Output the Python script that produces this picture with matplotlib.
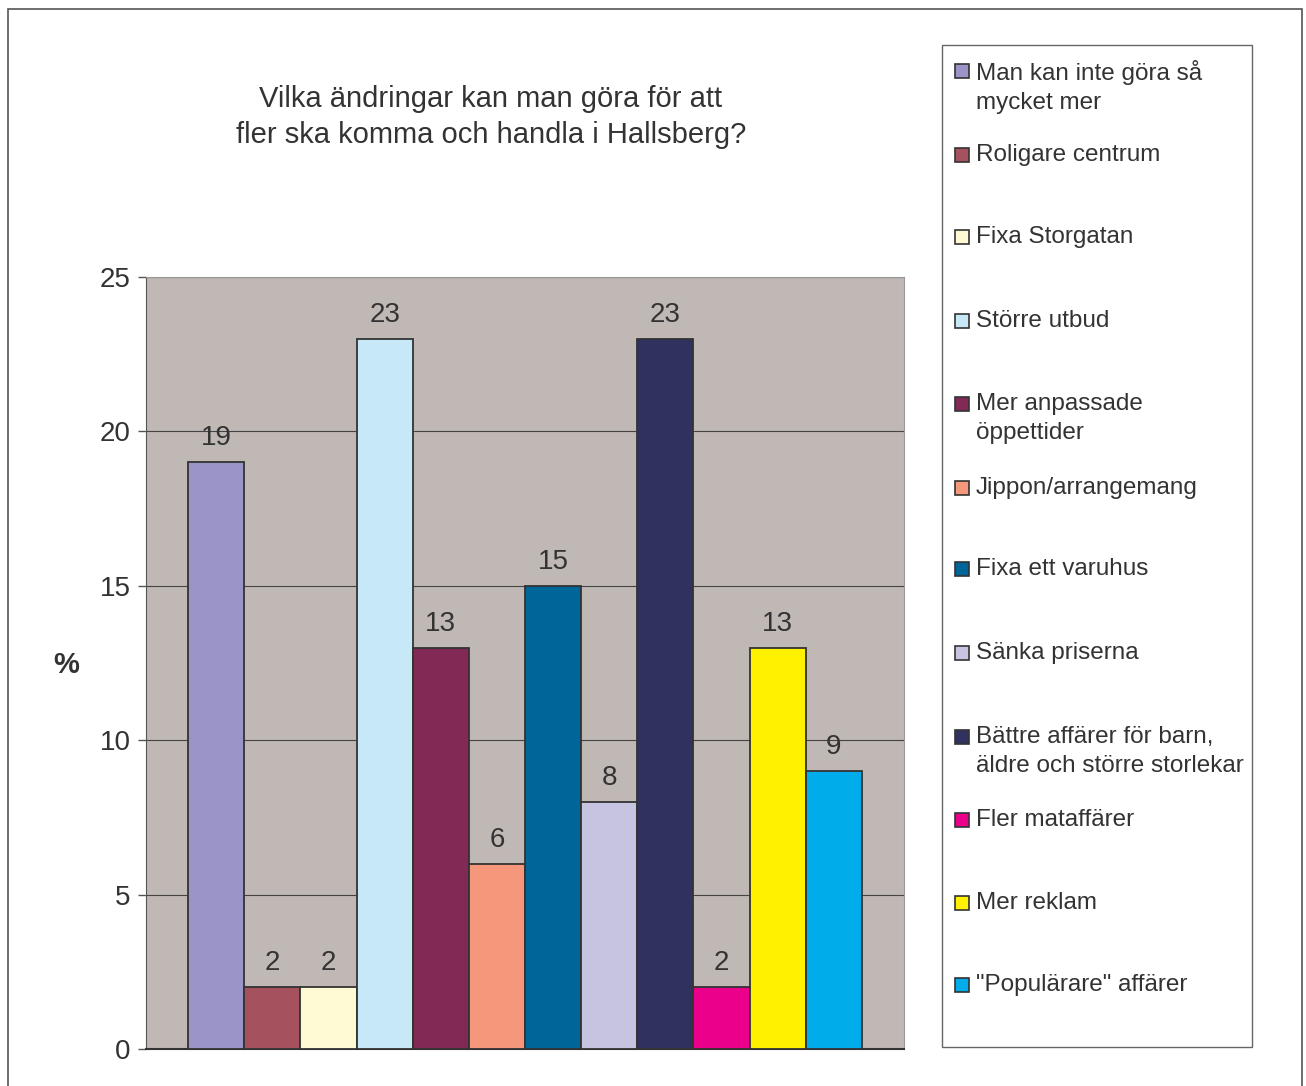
import matplotlib
matplotlib.use("Agg")
import matplotlib.pyplot as plt
from matplotlib.patches import Rectangle
import numpy as np

plt.rcParams['font.family'] = ['Liberation Sans', 'DejaVu Sans']

categories = ["Man kan inte göra så\nmycket mer", "Roligare centrum", "Fixa Storgatan",
              "Större utbud", "Mer anpassade\nöppettider", "Jippon/arrangemang",
              "Fixa ett varuhus", "Sänka priserna",
              "Bättre affärer för barn,\näldre och större storlekar",
              "Fler mataffärer", "Mer reklam", "\"Populärare\" affärer"]
values = [19, 2, 2, 23, 13, 6, 15, 8, 23, 2, 13, 9]
colors = ["#9A94C9", "#A5515E", "#FFF9D4", "#C6E8F7", "#822A55", "#F5977A",
          "#00669A", "#C7C4E2", "#313160", "#EB008B", "#FFF100", "#00ADEA"]
yticks = [0, 5, 10, 15, 20, 25]
title = "Vilka ändringar kan man göra för att\nfler ska komma och handla i Hallsberg?"

W, H = 1306, 1086
fig = plt.figure(figsize=(W / 100, H / 100), dpi=100)
txt = "#333333"

# outer frame
fig.patches.append(Rectangle((8 / W, -0.05), (1302 - 8) / W, 1.05 - 9 / H,
                             transform=fig.transFigure, fill=False,
                             edgecolor="#555555", linewidth=1.2))

ax = fig.add_axes([146 / W, 37 / H, (904 - 146) / W, (1049 - 277) / H])
ax.set_facecolor("#C0B8B5")
x = np.arange(len(values))
ax.bar(x, values, width=1.0, color=colors, edgecolor="#333333", linewidth=1.3, zorder=3)
ax.set_xlim(-1.25, len(values) - 1 + 1.25)
ax.set_ylim(0, 25)
ax.set_yticks(yticks)
ax.set_xticks([])
ax.yaxis.grid(True, color="#444444", linewidth=0.8, zorder=0)
ax.tick_params(axis="y", direction="out", length=6, width=1, color="#555555",
               labelsize=20, labelcolor=txt, pad=5)
for s in ["top", "right"]:
    ax.spines[s].set_color("#999999")
    ax.spines[s].set_linewidth(0.8)
ax.spines["left"].set_color("#555555")
ax.spines["bottom"].set_color("#333333")
ax.spines["bottom"].set_linewidth(1.5)

for xi, v in zip(x, values):
    ax.annotate(str(v), (xi, v), xytext=(0, 24), textcoords="offset pixels",
                ha="center", va="center", fontsize=20, color=txt)

fig.text(66 / W, 1 - 665 / H, "%", ha="center", va="center", fontsize=21,
         fontweight="bold", color=txt)
fig.text(491 / W, 1 - 117 / H, title, ha="center", va="center", fontsize=21,
         color=txt, linespacing=1.4)

# legend box
fig.patches.append(Rectangle((942 / W, 1 - 1047 / H), (1252 - 942) / W, (1047 - 45) / H,
                             transform=fig.transFigure, facecolor="white",
                             edgecolor="#666666", linewidth=1.0))
row_y = [71, 155, 237, 321, 404, 488, 569, 653, 737, 820, 903, 985]
for lab, c, yy in zip(categories, colors, row_y):
    fig.patches.append(Rectangle((955 / W, 1 - (yy + 7) / H), 14 / W, 14 / H,
                                 transform=fig.transFigure, facecolor=c,
                                 edgecolor="#333333", linewidth=1.2))
    fig.text(976 / W, 1 - (yy - 11) / H, lab, ha="left", va="top", fontsize=17.5,
             color=txt, linespacing=1.4)

fig.savefig("out.png", dpi=100)
